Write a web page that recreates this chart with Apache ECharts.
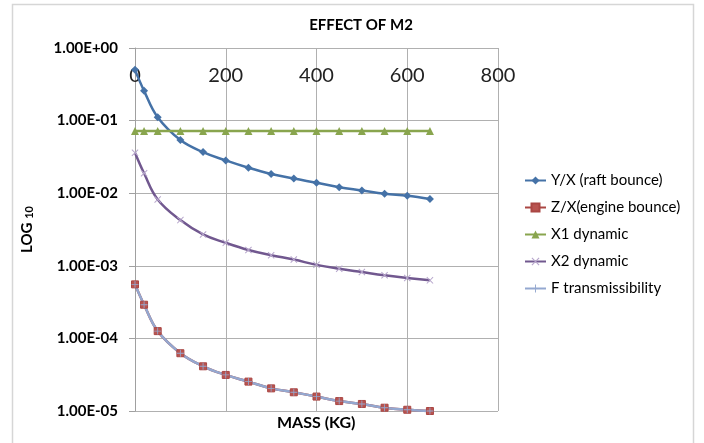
<!DOCTYPE html>
<html>
<head>
<meta charset="utf-8">
<script src="https://cdn.jsdelivr.net/npm/echarts@6/dist/echarts.min.js"></script>
<style>
  html, body { margin: 0; padding: 0; background: #fff; }
  #main { width: 704px; height: 443px; }
</style>
</head>
<body>
<div id="main"></div>
<script>
// mass values (kg)
var mass = [0, 20, 50, 100, 150, 200, 250, 300, 350, 400, 450, 500, 550, 600, 650];

// series values
var raftBounce = [0.5, 0.257, 0.111, 0.054, 0.0368, 0.0283, 0.0224, 0.0184, 0.0159, 0.0139, 0.0121, 0.0109, 0.0098, 0.0092, 0.0083];
var engineBounce = [0.000555, 0.000291, 0.000126, 0.0000625, 0.0000413, 0.0000314, 0.0000254, 0.0000205, 0.0000181, 0.0000158, 0.0000137, 0.0000125, 0.0000111, 0.0000104, 0.0000100];
var x1Dynamic = [0.072, 0.072, 0.072, 0.072, 0.072, 0.072, 0.072, 0.072, 0.072, 0.072, 0.072, 0.072, 0.072, 0.072, 0.072];
var x2Dynamic = [0.0361, 0.0188, 0.0082, 0.00426, 0.0027, 0.00207, 0.00165, 0.0014, 0.00122, 0.00103, 0.00091, 0.00082, 0.00074, 0.00068, 0.00063];
var fTrans = engineBounce.slice();

var seriesNames = ['Y/X (raft bounce)', 'Z/X(engine bounce)', 'X1 dynamic', 'X2 dynamic', 'F transmissibility'];

function pairs(vals) {
    return mass.map(function (m, i) { return [m, vals[i]]; });
}

function sciLabel(v) {
    var e = Math.round(Math.log(v) / Math.LN10);
    var a = Math.abs(e);
    return '1.00E' + (e < 0 ? '-' : '+') + (a < 10 ? '0' + a : a);
}

var crossPath = 'path://M0,1L1,0L5,4L9,0L10,1L6,5L10,9L9,10L5,6L1,10L0,9L4,5Z';
var plusPath = 'path://M4.4,0L5.6,0L5.6,4.4L10,4.4L10,5.6L5.6,5.6L5.6,10L4.4,10L4.4,5.6L0,5.6L0,4.4L4.4,4.4Z';

var myChart = echarts.init(document.getElementById('main'));

var option = {
    backgroundColor: '#fff',
    animation: false,
    textStyle: { fontFamily: 'Lato' },
    title: {
        text: 'EFFECT OF M2',
        left: 356,
        top: 13,
        textAlign: 'center',
        textStyle: { fontSize: 15, fontWeight: 'bold', color: '#000', fontFamily: 'Lato' }
    },
    legend: {
        orient: 'vertical',
        left: 519,
        top: 168,
        itemWidth: 21,
        itemHeight: 10,
        itemGap: 12,
        textStyle: { fontSize: 15, color: '#000', fontFamily: 'Lato' },
        data: seriesNames
    },
    grid: { left: 135, right: 206, top: 48, bottom: 32 },
    xAxis: {
        type: 'value',
        position: 'top',
        min: 0,
        max: 800,
        interval: 200,
        axisLine: { show: false },
        axisTick: { show: false },
        axisLabel: { inside: true, margin: 18, fontSize: 20, color: '#222', fontFamily: 'Lato' },
        splitLine: { show: true, lineStyle: { color: '#B0B0B0', width: 1 } }
    },
    yAxis: {
        type: 'log',
        logBase: 10,
        min: 0.00001,
        max: 1,
        name: '{b|LOG }{s|10}',
        nameLocation: 'middle',
        nameGap: 100,
        nameTextStyle: {
            rich: {
                b: { fontSize: 15, fontWeight: 'bold', color: '#000', fontFamily: 'Lato' },
                s: { fontSize: 11, fontWeight: 'bold', color: '#000', fontFamily: 'Lato', verticalAlign: 'bottom', padding: [4, 0, 0, 0] }
            }
        },
        axisLine: { show: true, lineStyle: { color: '#A0A0A0' } },
        axisTick: { show: true, length: 6, lineStyle: { color: '#A0A0A0' } },
        axisLabel: {
            margin: 17,
            fontSize: 15,
            fontWeight: 'bold',
            color: '#000',
            fontFamily: 'Lato',
            formatter: sciLabel
        },
        splitLine: { show: true, lineStyle: { color: '#B0B0B0', width: 1 } }
    },
    graphic: [
        {
            type: 'rect',
            shape: { x: 12.5, y: 4.5, width: 681, height: 445 },
            style: { fill: 'none', stroke: '#D6D6D6', lineWidth: 1.5 },
            silent: true
        },
        {
            type: 'text',
            left: 277,
            top: 415,
            style: { text: 'MASS (KG)', font: 'bold 16px Lato', fill: '#000' }
        }
    ],
    series: [
        {
            name: seriesNames[0],
            type: 'line',
            smooth: 0.4,
            data: pairs(raftBounce),
            symbol: 'diamond',
            symbolSize: 8,
            lineStyle: { width: 2.5, color: '#4572A7' },
            itemStyle: { color: '#4572A7' }
        },
        {
            name: seriesNames[1],
            type: 'line',
            smooth: 0.4,
            clip: false,
            data: pairs(engineBounce),
            symbol: 'rect',
            symbolSize: 7,
            lineStyle: { width: 2.5, color: '#AA4643' },
            itemStyle: { color: '#B85450', borderColor: '#AA4643', borderWidth: 1 }
        },
        {
            name: seriesNames[2],
            type: 'line',
            data: pairs(x1Dynamic),
            symbol: 'triangle',
            symbolSize: 8,
            lineStyle: { width: 2.5, color: '#89A54E' },
            itemStyle: { color: '#89A54E' }
        },
        {
            name: seriesNames[3],
            type: 'line',
            smooth: 0.4,
            data: pairs(x2Dynamic),
            symbol: crossPath,
            symbolSize: 7,
            lineStyle: { width: 2.5, color: '#71588F' },
            itemStyle: { color: '#B7A6CC' }
        },
        {
            name: seriesNames[4],
            type: 'line',
            smooth: 0.4,
            clip: false,
            data: pairs(fTrans),
            symbol: plusPath,
            symbolSize: 7,
            lineStyle: { width: 2.5, color: '#94A8D0' },
            itemStyle: { color: '#94A8D0' }
        }
    ]
};

myChart.setOption(option);
</script>
</body>
</html>
